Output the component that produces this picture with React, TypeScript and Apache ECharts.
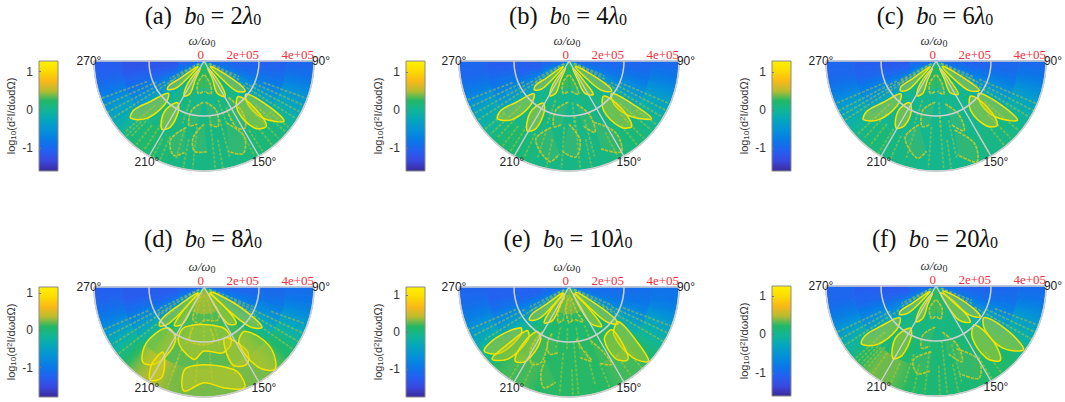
import * as React from "react";
import * as echarts from "echarts";

// radial ticks are in units of 1e5
const radiusTicks = [0, 2, 4];
const spokeAngles = [90, 150, 210, 270];
const colorbarTicks = [-1, 0, 1];
const palette = ["#3b2a98", "#3a48e0", "#2460f0", "#0a78e8", "#0490da", "#04a4c0", "#10b59a", "#20b868", "#b8bc30", "#f9b818", "#fddc00", "#fff000"];

// background level, rings (0-1, 1-2, 2-3, 3-4) x 5 degree bins from 90 to 270
const cellsA = [
  [-1.0, -0.95, -0.9, -0.85, -0.75, -0.6, -0.4, -0.2, -0.05, 0.05, 0.1, 0.15, 0.2, 0.2, 0.2, 0.2, 0.25, 0.25, 0.25, 0.25, 0.2, 0.2, 0.2, 0.15, 0.15, 0.1, 0.05, -0.05, -0.2, -0.4, -0.6, -0.75, -0.85, -0.95, -1.0, -1.05],
  [-1.05, -1.0, -0.95, -0.85, -0.7, -0.55, -0.35, -0.2, -0.05, 0.05, 0.1, 0.1, 0.1, 0.1, 0.1, 0.05, 0.05, 0.05, 0.05, 0.05, 0.05, 0.1, 0.1, 0.1, 0.1, 0.05, -0.05, -0.2, -0.35, -0.55, -0.7, -0.85, -1.0, -1.1, -1.15, -1.2],
  [-1.05, -1.0, -0.9, -0.8, -0.65, -0.45, -0.25, -0.1, 0.05, 0.1, 0.1, 0.1, 0.1, 0.1, 0.1, 0.1, 0.1, 0.1, 0.1, 0.1, 0.1, 0.1, 0.1, 0.1, 0.1, 0.1, 0.05, -0.1, -0.25, -0.45, -0.65, -0.8, -0.95, -1.05, -1.15, -1.2],
  [-1.0, -0.9, -0.75, -0.55, -0.4, -0.25, -0.1, 0.05, 0.1, 0.15, 0.15, 0.15, 0.15, 0.1, 0.1, 0.1, 0.1, 0.1, 0.1, 0.1, 0.1, 0.1, 0.15, 0.15, 0.2, 0.2, 0.15, 0.05, -0.1, -0.25, -0.4, -0.6, -0.8, -0.95, -1.05, -1.1],
];
const cellsB = [
  [-1.0, -0.95, -0.9, -0.8, -0.7, -0.55, -0.35, -0.2, -0.05, 0.05, 0.1, 0.15, 0.2, 0.2, 0.2, 0.25, 0.25, 0.25, 0.25, 0.25, 0.25, 0.2, 0.2, 0.15, 0.15, 0.1, 0.05, -0.05, -0.2, -0.35, -0.55, -0.7, -0.8, -0.9, -1.0, -1.0],
  [-1.0, -0.95, -0.9, -0.8, -0.65, -0.5, -0.3, -0.15, 0.0, 0.05, 0.1, 0.1, 0.1, 0.1, 0.1, 0.05, 0.05, 0.05, 0.05, 0.05, 0.05, 0.1, 0.1, 0.1, 0.1, 0.05, 0.0, -0.15, -0.3, -0.5, -0.65, -0.8, -0.95, -1.05, -1.1, -1.1],
  [-1.0, -0.95, -0.85, -0.7, -0.55, -0.4, -0.2, -0.05, 0.05, 0.1, 0.1, 0.1, 0.1, 0.1, 0.1, 0.1, 0.1, 0.1, 0.1, 0.1, 0.1, 0.1, 0.1, 0.1, 0.1, 0.1, 0.05, -0.05, -0.2, -0.4, -0.55, -0.7, -0.85, -0.95, -1.05, -1.1],
  [-0.95, -0.85, -0.7, -0.5, -0.35, -0.2, -0.05, 0.05, 0.1, 0.15, 0.15, 0.15, 0.15, 0.1, 0.1, 0.1, 0.1, 0.1, 0.1, 0.1, 0.1, 0.1, 0.15, 0.15, 0.2, 0.2, 0.15, 0.05, -0.05, -0.2, -0.35, -0.55, -0.75, -0.9, -1.0, -1.0],
];
const cellsC = [
  [-1.0, -0.95, -0.9, -0.85, -0.7, -0.55, -0.35, -0.2, -0.05, 0.05, 0.1, 0.1, 0.15, 0.2, 0.2, 0.2, 0.2, 0.2, 0.2, 0.2, 0.2, 0.2, 0.15, 0.1, 0.1, 0.1, 0.05, -0.05, -0.2, -0.35, -0.55, -0.7, -0.85, -0.9, -0.95, -1.0],
  [-1.05, -1.0, -0.9, -0.8, -0.65, -0.5, -0.3, -0.15, 0.0, 0.05, 0.05, 0.05, 0.05, 0.05, 0.05, 0.05, 0.0, 0.0, 0.0, 0.05, 0.05, 0.05, 0.05, 0.05, 0.05, 0.05, 0.0, -0.15, -0.3, -0.5, -0.65, -0.8, -0.95, -1.05, -1.1, -1.15],
  [-1.0, -0.95, -0.85, -0.7, -0.55, -0.4, -0.2, -0.05, 0.0, 0.05, 0.05, 0.05, 0.05, 0.05, 0.05, 0.05, 0.05, 0.05, 0.05, 0.05, 0.05, 0.05, 0.05, 0.05, 0.05, 0.05, 0.0, -0.05, -0.2, -0.4, -0.55, -0.7, -0.85, -1.0, -1.05, -1.1],
  [-0.95, -0.85, -0.7, -0.5, -0.35, -0.2, -0.05, 0.05, 0.1, 0.1, 0.1, 0.1, 0.1, 0.1, 0.1, 0.05, 0.05, 0.05, 0.05, 0.05, 0.1, 0.1, 0.1, 0.1, 0.15, 0.15, 0.1, 0.05, -0.05, -0.2, -0.35, -0.55, -0.75, -0.9, -1.0, -1.0],
];
const cellsD = [
  [-1.2, -1.15, -1.05, -0.95, -0.8, -0.6, -0.35, -0.15, 0.0, 0.1, 0.15, 0.2, 0.25, 0.3, 0.3, 0.3, 0.3, 0.3, 0.3, 0.3, 0.3, 0.3, 0.25, 0.2, 0.15, 0.1, 0.0, -0.15, -0.35, -0.6, -0.8, -0.95, -1.05, -1.15, -1.2, -1.2],
  [-1.2, -1.15, -1.05, -0.95, -0.8, -0.65, -0.45, -0.25, -0.05, 0.1, 0.15, 0.15, 0.15, 0.15, 0.15, 0.15, 0.15, 0.15, 0.15, 0.15, 0.15, 0.15, 0.15, 0.15, 0.15, 0.1, -0.05, -0.25, -0.45, -0.65, -0.85, -1.0, -1.15, -1.25, -1.3, -1.3],
  [-1.15, -1.1, -1.0, -0.85, -0.7, -0.5, -0.3, -0.1, 0.05, 0.15, 0.2, 0.2, 0.2, 0.2, 0.2, 0.2, 0.2, 0.2, 0.2, 0.2, 0.2, 0.2, 0.2, 0.2, 0.2, 0.15, 0.05, -0.1, -0.3, -0.5, -0.7, -0.9, -1.1, -1.2, -1.3, -1.3],
  [-1.1, -1.0, -0.85, -0.65, -0.45, -0.25, -0.05, 0.05, 0.15, 0.2, 0.25, 0.25, 0.25, 0.25, 0.25, 0.25, 0.25, 0.25, 0.25, 0.25, 0.25, 0.25, 0.3, 0.35, 0.35, 0.3, 0.2, 0.05, -0.1, -0.3, -0.5, -0.75, -0.95, -1.1, -1.2, -1.25],
];
const cellsE = [
  [-1.1, -1.05, -1.0, -0.9, -0.75, -0.55, -0.35, -0.15, 0.0, 0.1, 0.15, 0.2, 0.25, 0.25, 0.25, 0.25, 0.3, 0.3, 0.3, 0.3, 0.25, 0.25, 0.25, 0.2, 0.15, 0.1, 0.0, -0.15, -0.35, -0.55, -0.75, -0.9, -1.0, -1.05, -1.1, -1.1],
  [-1.1, -1.05, -1.0, -0.9, -0.75, -0.6, -0.4, -0.2, -0.05, 0.05, 0.1, 0.1, 0.1, 0.1, 0.1, 0.1, 0.1, 0.1, 0.1, 0.1, 0.1, 0.1, 0.1, 0.1, 0.1, 0.05, -0.05, -0.2, -0.4, -0.6, -0.75, -0.9, -1.05, -1.15, -1.2, -1.2],
  [-1.05, -1.0, -0.95, -0.8, -0.65, -0.45, -0.25, -0.1, 0.05, 0.1, 0.15, 0.15, 0.15, 0.15, 0.15, 0.15, 0.15, 0.15, 0.15, 0.15, 0.15, 0.15, 0.15, 0.15, 0.15, 0.1, 0.05, -0.1, -0.25, -0.45, -0.65, -0.8, -1.0, -1.1, -1.2, -1.2],
  [-1.0, -0.95, -0.8, -0.6, -0.4, -0.25, -0.1, 0.05, 0.1, 0.2, 0.2, 0.2, 0.2, 0.15, 0.15, 0.15, 0.15, 0.15, 0.15, 0.15, 0.15, 0.15, 0.2, 0.2, 0.2, 0.2, 0.15, 0.05, -0.1, -0.25, -0.45, -0.65, -0.85, -1.0, -1.1, -1.15],
];
const cellsF = [
  [-1.0, -0.95, -0.9, -0.85, -0.75, -0.6, -0.4, -0.2, -0.05, 0.05, 0.1, 0.15, 0.2, 0.2, 0.2, 0.25, 0.25, 0.25, 0.25, 0.25, 0.2, 0.2, 0.2, 0.15, 0.15, 0.1, 0.05, -0.05, -0.2, -0.4, -0.6, -0.75, -0.85, -0.95, -1.0, -1.0],
  [-1.05, -1.0, -0.95, -0.85, -0.7, -0.55, -0.35, -0.2, -0.05, 0.05, 0.1, 0.1, 0.1, 0.1, 0.1, 0.1, 0.1, 0.1, 0.1, 0.1, 0.1, 0.1, 0.1, 0.1, 0.1, 0.1, 0.0, -0.15, -0.3, -0.5, -0.65, -0.8, -0.95, -1.05, -1.1, -1.15],
  [-1.0, -0.95, -0.9, -0.75, -0.6, -0.4, -0.2, -0.05, 0.05, 0.1, 0.15, 0.15, 0.15, 0.15, 0.15, 0.15, 0.15, 0.15, 0.15, 0.15, 0.15, 0.15, 0.2, 0.2, 0.2, 0.15, 0.1, 0.0, -0.15, -0.35, -0.55, -0.7, -0.85, -1.0, -1.05, -1.1],
  [-0.95, -0.85, -0.7, -0.5, -0.35, -0.2, -0.05, 0.05, 0.15, 0.2, 0.2, 0.2, 0.2, 0.15, 0.15, 0.15, 0.15, 0.15, 0.15, 0.2, 0.2, 0.25, 0.3, 0.35, 0.35, 0.35, 0.25, 0.15, 0.0, -0.15, -0.35, -0.55, -0.75, -0.9, -1.0, -1.0],
];

// petal outlines as [radius, angle]
const brightA = [
  [[0.3, 228], [1.09, 234], [1.55, 235], [1.68, 232], [1.42, 226], [0.83, 224]],
  [[0.3, 208], [0.99, 216], [1.46, 210], [1.28, 203], [0.76, 205]],
  [[0.3, 152], [0.95, 144], [1.5, 149], [1.25, 158], [0.75, 155]],
  [[0.3, 130], [0.8, 122], [1.5, 123], [1.85, 126], [1.6, 133], [0.9, 135]],
  [[1.75, 228], [2.46, 233], [3.1, 235], [3.38, 232], [2.95, 225], [2.14, 222]],
  [[1.8, 213], [2.35, 218], [2.91, 212], [2.69, 207], [2.05, 207]],
  [[1.95, 128], [2.89, 125], [3.64, 127], [3.0, 134], [2.3, 135]],
  [[1.8, 136], [2.53, 133], [3.27, 136], [3.05, 143], [2.2, 146]],
];
const dimA = [
  [[0.5, 182], [0.85, 196], [1.2, 190], [1.1, 181]],
  [[0.5, 178], [0.85, 165], [1.22, 168], [1.1, 179]],
  [[1.5, 181], [1.85, 194], [2.41, 193], [2.3, 186]],
  [[1.5, 178], [1.85, 166], [2.44, 168], [2.3, 175]],
  [[1.6, 146], [2.3, 143], [2.85, 148], [2.7, 154], [1.9, 155]],
  [[2.5, 195], [3.1, 203], [3.6, 198], [3.4, 192]],
  [[2.3, 180], [2.8, 188], [3.3, 186], [3.3, 178]],
  [[2.4, 160], [3.1, 152], [3.65, 157], [3.4, 165]],
];
const raysA = [
  [1.3, 4, 238], [1.6, 4, 242], [1.9, 4, 246], [2.2, 4, 250], [2.4, 3.9, 228], [2.7, 3.8, 224], [3.0, 3.9, 219], [2.6, 3.9, 214], [3.0, 3.95, 204], [3.2, 4, 208],
  [1.5, 4, 122], [1.7, 4, 118], [2, 4, 114], [2.3, 4, 110], [2.5, 3.9, 131], [2.7, 3.9, 136], [3, 3.95, 141], [3, 3.9, 147],
  [2, 3.9, 174], [2.4, 3.9, 186], [2.2, 3.6, 165], [2.6, 3.7, 196], [0.2, 1.5, 239], [0.2, 1.4, 243], [0.2, 1.5, 118], [0.2, 1.4, 114],
  [1.5, 2.4, 199], [1.5, 2.4, 160], [2.9, 3.95, 170], [2.9, 3.95, 191], [2.9, 3.9, 152], [3.0, 3.95, 226], [3.0, 3.9, 128],
];

const brightB = [
  [[0.3, 227], [1.05, 233], [1.5, 234], [1.64, 230], [1.4, 224], [0.8, 222]],
  [[0.3, 207], [0.98, 215], [1.44, 209], [1.25, 202], [0.75, 204]],
  [[0.3, 151], [0.95, 143], [1.5, 144], [1.3, 154], [0.75, 155]],
  [[0.3, 130], [0.8, 121], [1.55, 122], [1.9, 125], [1.6, 132], [0.9, 135]],
  [[1.75, 227], [2.45, 232], [3.05, 234], [3.34, 231], [2.95, 224], [2.14, 221]],
  [[1.8, 212], [2.35, 217], [2.96, 211], [2.72, 206], [2.05, 206]],
  [[1.95, 127], [2.9, 124], [3.66, 125], [3.0, 132], [2.3, 134]],
  [[1.8, 135], [2.55, 132], [3.29, 136], [3.05, 142], [2.2, 145]],
];
const dimB = [
  [[0.5, 182], [0.85, 196], [1.2, 190], [1.1, 181]],
  [[0.5, 178], [0.85, 165], [1.26, 164], [1.1, 176]],
  [[1.5, 181], [1.85, 195], [2.45, 193], [2.3, 186]],
  [[1.6, 170], [2.1, 159], [2.76, 160], [2.4, 168]],
  [[2.5, 195], [3.1, 203], [3.72, 191], [3.4, 186]],
  [[2.3, 180], [2.9, 172], [3.5, 176], [3.3, 184]],
  [[2.4, 158], [3.1, 147], [3.81, 150], [3.4, 160]],
];
const raysB = [
  [1.2, 4, 237], [1.5, 4, 241], [1.8, 4, 245], [2.2, 4, 249], [2.4, 3.9, 227], [2.7, 3.8, 223], [3.0, 3.9, 218], [2.8, 3.9, 213], [2.9, 3.95, 205],
  [1.5, 4, 121], [1.7, 4, 117], [2, 4, 113], [2.4, 3.9, 130], [2.7, 3.9, 136], [3, 3.95, 141],
  [2, 3.9, 174], [2.4, 3.9, 184], [2.2, 3.6, 165], [2.6, 3.7, 198], [0.2, 1.5, 238], [0.2, 1.4, 242], [0.2, 1.5, 117], [0.2, 1.4, 113],
  [1.5, 2.4, 199], [1.5, 2.4, 175], [2.9, 3.95, 168], [2.9, 3.95, 192], [2.9, 3.9, 153], [3.0, 3.95, 231], [3.0, 3.9, 126],
];

const brightC = [
  [[0.3, 227], [1.08, 233], [1.55, 234], [1.69, 230], [1.45, 224], [0.82, 223]],
  [[0.3, 207], [0.98, 215], [1.44, 209], [1.26, 202], [0.75, 204]],
  [[0.3, 152], [0.95, 144], [1.45, 146], [1.25, 156], [0.75, 155]],
  [[0.3, 130], [0.8, 121], [1.5, 122], [1.9, 124], [1.6, 132], [0.9, 135]],
  [[1.75, 227], [2.45, 232], [3.1, 234], [3.39, 231], [2.95, 224], [2.14, 221]],
  [[1.8, 213], [2.3, 217], [2.83, 211], [2.62, 206], [2.05, 206]],
  [[1.95, 127], [2.9, 124], [3.66, 126], [3.0, 133], [2.3, 134]],
  [[1.8, 135], [2.5, 132], [3.22, 136], [3.0, 142], [2.2, 145]],
];
const dimC = [
  [[0.5, 182], [0.85, 196], [1.2, 190], [1.1, 181]],
  [[0.5, 178], [0.85, 165], [1.24, 167], [1.1, 177]],
  [[1.5, 181], [1.85, 195], [2.44, 192], [2.3, 185]],
  [[1.6, 168], [2.1, 157], [2.74, 158], [2.4, 166]],
  [[2.4, 195], [3.0, 202], [3.6, 191], [3.3, 186]],
  [[2.6, 165], [3.3, 155], [3.95, 158], [3.5, 167]],
];
const raysC = [
  [0.9, 4, 237], [1.2, 4, 240], [1.6, 4, 243], [2.0, 4, 247], [2.3, 3.9, 227], [2.6, 3.8, 223], [2.9, 3.9, 218], [3.0, 3.95, 205],
  [1.0, 4, 121], [1.3, 4, 117], [1.7, 4, 113], [2.3, 3.9, 130], [2.7, 3.9, 136], [3, 3.95, 141],
  [2, 3.9, 176], [2.4, 3.9, 184], [2.2, 3.6, 168], [2.6, 3.7, 197], [0.2, 1.6, 238], [0.2, 1.5, 242], [0.2, 1.6, 117], [0.2, 1.5, 113],
  [1.5, 2.4, 199], [1.5, 2.4, 176], [2.9, 3.95, 172], [2.9, 3.95, 212], [2.9, 3.9, 150],
];

const brightD = [
  [[0.3, 226], [1.1, 234], [1.9, 233], [2.15, 229], [1.85, 224], [0.9, 222]],
  [[0.3, 215], [1.0, 222], [1.76, 218], [1.55, 210], [0.8, 210]],
  [[0.3, 128], [1.2, 118], [2.2, 122], [2.57, 125], [2.2, 131], [1.1, 134]],
  [[0.3, 142], [1.0, 134], [1.76, 138], [1.6, 147], [0.85, 150]],
  [[2.0, 222], [2.9, 226], [3.53, 219], [3.2, 211], [2.2, 208]],
  [[2.8, 212], [3.4, 214], [3.9, 210], [3.6, 205]],
  [[1.6, 205], [2.2, 205], [2.66, 188], [2.33, 180], [2.49, 164], [2.2, 153], [1.6, 156]],
  [[2.0, 158], [2.8, 146], [3.21, 151], [3.0, 160]],
  [[2.2, 137], [3.2, 132], [3.95, 139], [3.5, 146], [2.4, 148]],
  [[3.0, 192], [3.85, 191], [3.48, 180], [3.73, 169], [3.95, 158], [3.2, 160]],
];
const dimD = [
  [[0.2, 200], [1.2, 200], [1.35, 187], [1.22, 180], [1.3, 157], [1.0, 150], [0.2, 150]],
  [[1.5, 195], [2.0, 195], [2.1, 183], [2.0, 170], [1.5, 172]],
];
const raysD = [
  [1.2, 3.96, 232], [1.4, 3.9, 238], [1.8, 3.9, 243], [2.2, 3.95, 247], [0.2, 2, 240], [0.2, 1.8, 244],
  [1.2, 3.95, 115], [1.6, 3.95, 120], [2.0, 3.95, 125], [2.6, 3.9, 110], [0.2, 2.2, 118], [0.2, 2, 112],
  [2.4, 3.4, 200], [2.4, 3.4, 175], [2.6, 3.4, 160], [1.4, 2.2, 197], [1.4, 2.2, 165],
  [2.7, 3.9, 200], [2.7, 3.5, 185], [1.4, 2.2, 180], [0.3, 1.2, 195], [0.3, 1.2, 180], [0.3, 1.2, 165],
];

const brightE = [
  [[0.3, 226], [1.1, 233], [1.65, 234], [1.87, 230], [1.55, 223], [0.85, 221]],
  [[0.3, 212], [0.95, 219], [1.58, 215], [1.35, 206], [0.75, 206]],
  [[0.3, 146], [0.95, 137], [1.85, 140], [1.55, 149], [0.85, 152]],
  [[0.3, 130], [1.0, 122], [1.9, 124], [2.23, 127], [1.85, 133], [1.0, 135]],
  [[2.3, 230], [3.2, 235], [3.86, 233], [3.45, 226], [2.5, 225]],
  [[2.2, 224], [3.1, 227], [3.83, 227], [3.4, 220], [2.4, 218]],
  [[2.0, 216], [2.8, 219], [3.33, 216], [3.1, 210], [2.2, 208]],
  [[2.2, 125], [3.2, 129], [3.95, 133], [3.45, 138], [2.4, 137]],
  [[2.2, 135], [2.9, 137], [3.4, 141], [3.1, 147], [2.3, 146]],
];
const dimE = [
  [[0.4, 201], [0.9, 204], [1.35, 197], [1.2, 189]],
  [[0.4, 182], [0.8, 188], [1.3, 180], [1.2, 173]],
  [[0.4, 168], [0.9, 163], [1.36, 158], [1.2, 170]],
  [[1.9, 211], [2.6, 212], [3.11, 206], [2.9, 200], [2.1, 201]],
  [[1.8, 200], [2.2, 201], [2.54, 196], [2.4, 189]],
  [[1.9, 172], [2.4, 167], [2.81, 163], [2.6, 171]],
  [[2.1, 158], [2.7, 152], [3.21, 151], [3.0, 158]],
  [[2.8, 198], [3.3, 198], [3.78, 194], [3.5, 188]],
];
const raysE = [
  [1.4, 3.6, 238], [1.8, 3.9, 243], [2.1, 4, 247], [0.2, 1.7, 238], [0.2, 1.6, 243],
  [1.4, 4, 120], [1.7, 4, 115], [2.1, 4, 111], [0.2, 1.9, 118], [0.2, 1.7, 113],
  [2, 3.9, 175], [2.4, 3.9, 185], [2.4, 3.7, 165], [3, 3.9, 205], [3, 3.9, 145], [3.2, 3.95, 213], [3.4, 3.95, 138],
  [1.5, 2.3, 182], [1.5, 2.3, 192], [1.5, 2.3, 170], [1.5, 2.3, 158], [3, 3.95, 178], [3, 3.95, 158], [0.3, 1.2, 190], [0.3, 1.2, 175],
];

const brightF = [
  [[0.3, 228], [1.09, 234], [1.55, 235], [1.68, 232], [1.42, 226], [0.83, 224]],
  [[0.3, 207], [0.98, 215], [1.48, 209], [1.25, 202], [0.75, 204]],
  [[0.3, 145], [0.95, 131], [1.8, 136], [1.5, 146], [0.8, 150]],
  [[0.3, 127], [0.9, 118], [1.6, 121], [1.96, 125], [1.6, 131], [0.9, 133]],
  [[1.75, 229], [2.5, 234], [3.15, 235], [3.43, 232], [3.0, 225], [2.15, 222]],
  [[1.8, 212], [2.4, 218], [3.06, 211], [2.8, 206], [2.05, 206]],
  [[2.1, 123], [3.1, 122], [3.93, 126], [3.3, 133], [2.4, 132]],
  [[2.0, 135], [2.9, 134], [3.57, 139], [3.2, 145], [2.3, 145]],
];
const dimF = [
  [[0.5, 182], [0.85, 196], [1.2, 188], [1.1, 181]],
  [[0.5, 178], [0.85, 165], [1.22, 172], [1.1, 179]],
  [[1.5, 181], [1.85, 195], [2.32, 193], [2.2, 186]],
  [[1.7, 172], [2.3, 160], [2.91, 161], [2.5, 170]],
  [[2.4, 184], [2.8, 197], [3.25, 192], [3.1, 184]],
  [[2.4, 162], [3.1, 150], [3.7, 155], [3.3, 165]],
];
const raysF = [
  [1.6, 4, 237], [1.9, 4, 241], [2.2, 4, 245], [2.5, 3.9, 228], [2.7, 3.9, 224], [2.9, 3.9, 220], [3, 3.95, 216], [3.1, 3.95, 205],
  [1.6, 4, 119], [2, 4, 115], [2.3, 4, 111], [3, 3.95, 143], [3, 3.95, 149],
  [2, 3.9, 174], [2.4, 3.9, 186], [2.2, 3.6, 165], [2.6, 3.7, 198], [0.2, 1.5, 239], [0.2, 1.4, 243], [0.2, 1.5, 116], [0.2, 1.4, 112],
  [3.0, 3.95, 222], [3.0, 3.95, 226], [2.9, 3.95, 178], [2.9, 3.95, 168], [2.9, 3.95, 192],
];

const panels = [
  { letter: "a", b: "2", cx: 204, cy: 61, barX: 39, min: -1.59, max: 1.28, cells: cellsA, bright: brightA, dim: dimA, rays: raysA },
  { letter: "b", b: "4", cx: 569, cy: 61, barX: 406, min: -1.6, max: 1.3, cells: cellsB, bright: brightB, dim: dimB, rays: raysB },
  { letter: "c", b: "6", cx: 936, cy: 61, barX: 772, min: -1.6, max: 1.3, cells: cellsC, bright: brightC, dim: dimC, rays: raysC },
  { letter: "d", b: "8", cx: 204, cy: 287, barX: 39, min: -1.79, max: 1.17, cells: cellsD, bright: brightD, dim: dimD, rays: raysD },
  { letter: "e", b: "10", cx: 569, cy: 287, barX: 406, min: -1.75, max: 1.22, cells: cellsE, bright: brightE, dim: dimE, rays: raysE },
  { letter: "f", b: "20", cx: 936, cy: 286, barX: 772, min: -1.6, max: 1.26, cells: cellsF, bright: brightF, dim: dimF, rays: raysF },
];

const RADIUS = 110;
const ANGLE_STEP = 5;
const GRID_COLOR = "#cfcfcf";
const sans = "Liberation Sans";
const serif = "Liberation Serif";

function colorOf(v: number, min: number, max: number) {
  return echarts.color.lerp(Math.min(1, Math.max(0, (v - min) / (max - min))), palette);
}

function sectorAngle(p: number[], sys: any) {
  const a = Math.atan2(p[1] - sys.cy, p[0] - sys.cx);
  return a < -1 ? a + Math.PI * 2 : a;
}

function lobeSeries(lobes: number[][][], polarIndex: number, type: string, style: any, z: number) {
  return {
    type: "custom",
    coordinateSystem: "polar",
    polarIndex,
    z,
    silent: true,
    encode: { radius: 0, angle: 1 },
    data: lobes.map((l) => l[0]),
    renderItem: (params: any, api: any) => ({
      type,
      shape: { points: lobes[params.dataIndex].map((p) => api.coord(p)), smooth: 0.35 },
      style,
    }),
  };
}

function buildOption() {
  const series: any[] = [];
  panels.forEach((p, i) => {
    const data: number[][] = [];
    p.cells.forEach((ring, ri) => {
      ring.forEach((v, ai) => {
        const before = ring[Math.max(0, ai - 1)];
        const after = ring[Math.min(ring.length - 1, ai + 1)];
        data.push([ri + 0.5, 90 + ai * ANGLE_STEP + ANGLE_STEP / 2, v, (before + v) / 2, (after + v) / 2]);
      });
    });
    series.push({
      type: "custom",
      coordinateSystem: "polar",
      polarIndex: i,
      z: 1,
      silent: true,
      encode: { radius: 0, angle: 1 },
      data,
      renderItem: (params: any, api: any) => {
        const r = api.value(0);
        const a = api.value(1);
        const sys = params.coordSys;
        const inner = api.coord([r - 0.5, a]);
        const outer0 = api.coord([r + 0.5, a - ANGLE_STEP / 2]);
        const outer1 = api.coord([r + 0.5, a + ANGLE_STEP / 2]);
        const mid0 = api.coord([r, a - ANGLE_STEP / 2]);
        const mid1 = api.coord([r, a + ANGLE_STEP / 2]);
        const fill = new echarts.graphic.LinearGradient(
          mid0[0], mid0[1], mid1[0], mid1[1],
          [
            { offset: 0, color: colorOf(api.value(3), p.min, p.max) },
            { offset: 0.5, color: colorOf(api.value(2), p.min, p.max) },
            { offset: 1, color: colorOf(api.value(4), p.min, p.max) },
          ],
          true,
        );
        return {
          type: "sector",
          shape: {
            cx: sys.cx,
            cy: sys.cy,
            r0: Math.hypot(inner[0] - sys.cx, inner[1] - sys.cy),
            r: Math.hypot(outer0[0] - sys.cx, outer0[1] - sys.cy),
            startAngle: sectorAngle(outer0, sys),
            endAngle: sectorAngle(outer1, sys),
            clockwise: true,
          },
          style: { fill, stroke: fill, lineWidth: 1 },
        };
      },
    });
    series.push({
      type: "custom",
      coordinateSystem: "polar",
      polarIndex: i,
      z: 2,
      silent: true,
      encode: { radius: 0, angle: 1 },
      data: p.rays.map((r) => [r[0], r[2]]),
      renderItem: (params: any, api: any) => {
        const r = p.rays[params.dataIndex];
        const a = api.coord([r[0], r[2]]);
        const b = api.coord([r[1], r[2]]);
        return {
          type: "line",
          shape: { x1: a[0], y1: a[1], x2: b[0], y2: b[1] },
          style: { stroke: "#d4cc20", lineWidth: 1.8, opacity: 0.42, lineDash: [3, 1.5] },
        };
      },
    });
    series.push(lobeSeries(p.dim, i, "polyline", { fill: "rgba(165,195,50,0.18)", stroke: "#c8c828", lineWidth: 1.7, opacity: 0.9, lineDash: [3.5, 1] }, 3));
    series.push(lobeSeries(p.bright, i, "polygon", { fill: "rgba(205,205,30,0.46)", stroke: "#f5e400", lineWidth: 1.5 }, 4));
    series.push({
      type: "custom",
      coordinateSystem: "polar",
      polarIndex: i,
      z: 6,
      silent: true,
      encode: { radius: 0, angle: 1 },
      data: spokeAngles.map((a) => [radiusTicks[radiusTicks.length - 1], a]),
      renderItem: (params: any, api: any) => {
        const sys = params.coordSys;
        const e = api.coord([api.value(0), api.value(1)]);
        return {
          type: "line",
          shape: { x1: sys.cx, y1: sys.cy, x2: e[0], y2: e[1] },
          style: { stroke: GRID_COLOR, lineWidth: 1.4 },
        };
      },
    });
    // colorbar
    series.push({
      type: "custom",
      coordinateSystem: "cartesian2d",
      xAxisIndex: i,
      yAxisIndex: i,
      silent: true,
      data: [[0, p.min]],
      renderItem: (_: any, api: any) => {
        const a = api.coord([0, p.max]);
        const b = api.coord([1, p.min]);
        return {
          type: "rect",
          shape: { x: a[0], y: a[1], width: b[0] - a[0], height: b[1] - a[1] },
          style: {
            fill: new echarts.graphic.LinearGradient(
              0, 1, 0, 0,
              palette.map((c, k) => ({ offset: k / (palette.length - 1), color: c })),
            ),
            stroke: "#8a8a8a",
            lineWidth: 1,
          },
        };
      },
    });
  });

  const graphic: any[] = [];
  const angleLabels = [
    { text: "270°", dx: -115, dy: 0 },
    { text: "90°", dx: 117, dy: 0 },
    { text: "210°", dx: -57, dy: 101 },
    { text: "150°", dx: 60, dy: 101 },
  ];
  panels.forEach((p, i) => {
    angleLabels.forEach((l) => {
      graphic.push({
        type: "text",
        x: p.cx + l.dx,
        y: p.cy + l.dy,
        z: 20,
        style: { text: l.text, font: `12px "${sans}"`, fill: "#222", align: "center", verticalAlign: "middle" },
      });
    });
    graphic.push({
      type: "text",
      x: p.cx - 2,
      y: p.cy - 21,
      z: 20,
      style: {
        text: "{i|ω/ω}{s|0}",
        align: "center",
        verticalAlign: "middle",
        rich: {
          i: { font: `italic 13px "${serif}"`, fill: "#333" },
          s: { font: `10px "${serif}"`, fill: "#333", verticalAlign: "bottom", padding: [6, 0, 0, 0] },
        },
      },
    });
    graphic.push({
      type: "text",
      x: p.cx - 1,
      y: i < 3 ? 15 : 238,
      z: 20,
      style: {
        text: `{n|(${p.letter})  }{i|b}{s|0}{n| = ${p.b}}{i|λ}{s|0}`,
        align: "center",
        verticalAlign: "middle",
        rich: {
          n: { font: `24.5px "${serif}"`, fill: "#111" },
          i: { font: `italic 24.5px "${serif}"`, fill: "#111" },
          s: { font: `16px "${serif}"`, fill: "#111", verticalAlign: "bottom", padding: [9, 0, 0, 0] },
        },
      },
    });
  });

  return {
    animation: false,
    backgroundColor: "#fff",
    polar: panels.map((p) => ({ center: [p.cx, p.cy], radius: [0, RADIUS] })),
    angleAxis: panels.map((_, i) => ({
      polarIndex: i,
      type: "value",
      min: 90,
      max: 270,
      startAngle: 0,
      endAngle: -180,
      clockwise: true,
      z: 5,
      axisLine: { show: true, lineStyle: { color: GRID_COLOR, width: 1.2 } },
      axisTick: { show: false },
      axisLabel: { show: false },
      splitLine: { show: false },
    })),
    radiusAxis: panels.map((_, i) => ({
      polarIndex: i,
      type: "value",
      min: 0,
      max: 4,
      interval: 2,
      z: 5,
      axisLine: { show: false },
      axisTick: { show: false },
      splitLine: { show: true, lineStyle: { color: GRID_COLOR, width: 1.5 } },
      axisLabel: {
        show: true,
        margin: 0,
        color: "#f0303c",
        fontFamily: serif,
        fontSize: 13,
        align: "right",
        verticalAlign: "bottom",
        formatter: (v: number) => (v === 0 ? "0" : `${v}e+05`),
      },
    })),
    grid: panels.map((p) => ({ left: p.barX, top: p.cy, width: 19, height: RADIUS })),
    xAxis: panels.map((_, i) => ({ gridIndex: i, type: "value", min: 0, max: 1, show: false })),
    yAxis: panels.map((p, i) => ({
      gridIndex: i,
      type: "value",
      min: p.min,
      max: p.max,
      z: 5,
      name: "{a|log}{s|10}{a|(d}{u|2}{a|I/dωdΩ)}",
      nameLocation: "middle",
      nameGap: 22,
      nameRotate: 90,
      nameTextStyle: {
        rich: {
          a: { fontFamily: sans, fontSize: 11, color: "#333" },
          s: { fontFamily: sans, fontSize: 8, color: "#333", verticalAlign: "bottom", padding: [4, 0, 0, 0] },
          u: { fontFamily: sans, fontSize: 8, color: "#333", verticalAlign: "top", padding: [0, 0, 4, 0] },
        },
      },
      axisLine: { show: false },
      axisTick: { show: true, inside: true, length: 2, customValues: colorbarTicks, lineStyle: { color: "#777" } },
      splitLine: { show: false },
      axisLabel: {
        customValues: colorbarTicks,
        margin: 6,
        fontFamily: sans,
        fontSize: 12,
        color: "#333",
      },
    })),
    graphic,
    series,
  };
}

export default function App() {
  const ref = React.useRef<HTMLDivElement | null>(null);

  React.useEffect(() => {
    if (!ref.current) return;
    const chart = echarts.init(ref.current, undefined, { renderer: "svg" });
    chart.setOption(buildOption() as any);
    return () => chart.dispose();
  }, []);

  return <div ref={ref} style={{ position: "absolute", left: 0, top: 0, width: 1065, height: 402 }} />;
}
